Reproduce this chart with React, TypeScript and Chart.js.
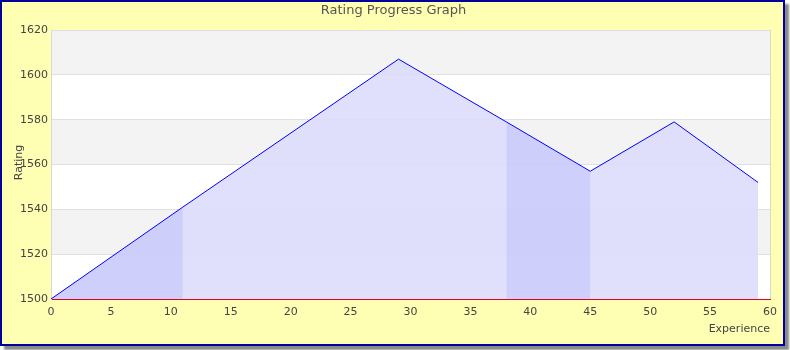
import { useEffect, useRef } from 'react';
import { Chart, registerables } from 'chart.js';

Chart.register(...registerables);

const chartTitle = 'Rating Progress Graph';
const xAxisTitle = 'Experience';
const yAxisTitle = 'Rating';
const experience = [0, 11, 29, 38, 45, 52, 59];
const rating = [1500, 1541, 1607, 1579, 1557, 1579, 1552];
// start indices of segments whose area is shaded darker
const highlightedSegments = [0, 3];
const xMin = 0;
const xMax = 60;
const xStep = 5;
const yMin = 1500;
const yMax = 1620;
const yStep = 20;

const FONT = "'DejaVu Sans', Verdana, sans-serif";
const LIGHT_FILL = 'rgba(221,221,252,0.9)';
const DARK_OVERLAY = 'rgba(0,0,255,0.075)';

const bandsPlugin = {
  id: 'bands',
  beforeDraw(chart: any) {
    const { ctx, chartArea, scales } = chart;
    const y = scales.y;
    ctx.save();
    ctx.fillStyle = '#ffffff';
    ctx.fillRect(chartArea.left, chartArea.top, chartArea.right - chartArea.left, chartArea.bottom - chartArea.top);
    ctx.fillStyle = '#f3f3f3';
    const ticks = y.ticks;
    for (let i = 0; i < ticks.length - 1; i++) {
      if (i % 2 === 1) {
        const top = y.getPixelForValue(ticks[i + 1].value);
        const bottom = y.getPixelForValue(ticks[i].value);
        ctx.fillRect(chartArea.left, top, chartArea.right - chartArea.left, bottom - top);
      }
    }
    ctx.strokeStyle = '#d8d8d8';
    ctx.lineWidth = 1;
    ctx.beginPath();
    ctx.moveTo(Math.round(chartArea.right) + 0.5, chartArea.top);
    ctx.lineTo(Math.round(chartArea.right) + 0.5, chartArea.bottom);
    ctx.stroke();
    ctx.restore();
  },
  afterDraw(chart: any) {
    const { ctx, chartArea } = chart;
    ctx.save();
    ctx.translate(19, (chartArea.top + chartArea.bottom) / 2 - 2);
    ctx.rotate(-Math.PI / 2);
    ctx.fillStyle = '#444';
    ctx.font = `11px ${FONT}`;
    ctx.textAlign = 'center';
    ctx.textBaseline = 'middle';
    ctx.fillText(yAxisTitle, 0, 0);
    ctx.restore();
  },
};

export default function App() {
  const ref = useRef<HTMLCanvasElement>(null);

  useEffect(() => {
    if (!ref.current) return;
    const points = experience.map((x, i) => ({ x, y: rating[i] }));
    const chart = new Chart(ref.current, {
      type: 'line',
      data: {
        datasets: [
          {
            // base area under the whole curve
            data: points,
            order: 2,
            borderWidth: 0,
            borderColor: 'rgba(0,0,0,0)',
            pointRadius: 0,
            tension: 0,
            fill: 'start',
            backgroundColor: LIGHT_FILL,
          },
          {
            data: points,
            order: 1,
            borderColor: '#0000ff',
            borderWidth: 1,
            pointRadius: 0,
            tension: 0,
            fill: 'start',
            backgroundColor: 'rgba(0,0,0,0)',
            segment: {
              backgroundColor: (ctx: any) =>
                highlightedSegments.includes(ctx.p0DataIndex) ? DARK_OVERLAY : 'rgba(0,0,0,0)',
            },
          },
        ],
      },
      options: {
        responsive: false,
        animation: false,
        layout: { padding: { left: 17, right: 20, top: 0, bottom: 0 } },
        plugins: {
          legend: { display: false },
          tooltip: { enabled: false },
          title: {
            display: true,
            text: chartTitle,
            color: '#555',
            font: { family: FONT, size: 13, weight: 'normal' },
            padding: { top: 3, bottom: 11.4 },
          },
        },
        scales: {
          x: {
            type: 'linear',
            min: xMin,
            max: xMax,
            z: 1,
            ticks: {
              stepSize: xStep,
              color: '#444',
              font: { family: FONT, size: 11 },
              padding: 7,
              maxRotation: 0,
              callback: (v: any) => String(v),
            },
            grid: { display: false, drawTicks: false },
            border: { display: true, color: '#e0002a', width: 1 },
            title: {
              display: true,
              text: xAxisTitle,
              align: 'end',
              color: '#444',
              font: { family: FONT, size: 11 },
              padding: { top: 0, bottom: 14.4 },
            },
            afterFit: (scale: any) => {
              scale.height = 51;
            },
          },
          y: {
            min: yMin,
            max: yMax,
            ticks: {
              stepSize: yStep,
              color: '#444',
              font: { family: FONT, size: 11 },
              padding: 3,
              callback: (v: any) => String(v),
            },
            grid: { color: '#e0e0e0', drawTicks: false },
            border: { display: true, color: '#d8d8d8' },
            afterFit: (scale: any) => {
              scale.width = 34;
            },
          },
        },
      },
      plugins: [bandsPlugin],
    });
    return () => chart.destroy();
  }, []);

  return (
    <>
      <div
        style={{
          position: 'fixed',
          left: 0,
          top: 0,
          width: 781,
          height: 342,
          border: '2px solid #00009c',
          background: '#ffffb4',
          boxShadow: '4px 4px 2px #8a8a8a',
        }}
      />
      <canvas
        ref={ref}
        width={790}
        height={350}
        style={{ position: 'fixed', left: 0, top: 0, width: 790, height: 350 }}
      />
    </>
  );
}
